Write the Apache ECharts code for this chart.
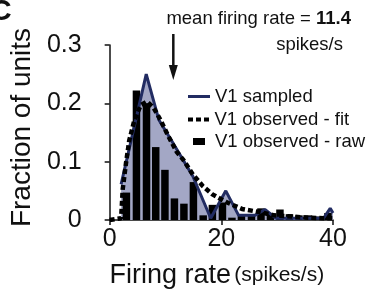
<!doctype html>
<html lang="en">
<head>
<meta charset="utf-8">
<title>firing rate histogram</title>
<script src="https://cdn.jsdelivr.net/npm/echarts@6/dist/echarts.min.js"></script>
<style>
html, body { margin: 0; padding: 0; background: #fff; }
#chart { width: 368px; height: 294px; }
</style>
</head>
<body>
<div id="chart"></div>
<script>
// raw histogram (V1 observed - raw)
var rawX = [3.0, 4.8, 6.6, 8.25, 9.9, 11.6, 13.3, 15.0, 16.75, 18.4, 20.2, 21.9, 23.6, 25.4, 27.1, 28.8, 30.5, 32.2, 33.9, 35.6, 37.4, 39.1];
var rawY = [0.047, 0.222, 0.200, 0.125, 0.086, 0.037, 0.028, 0.065, 0.008, 0.026, 0.030, 0.004, 0.008, 0.010, 0.020, 0.012, 0.018, 0.010, 0.008, 0.008, 0.006, 0.012];

// V1 sampled
var sampledX = [2.05, 6.55, 8.8, 11.1, 14.9, 18.1, 20.8, 23.1, 26.0, 27.8, 29.8, 38.3, 39.5, 40];
var sampledY = [0.061, 0.250, 0.172, 0.136, 0.075, 0.003, 0.050, 0.008, 0.008, 0.018, 0.003, 0.003, 0.020, 0.012];

// V1 observed - fit
var fitX = [0, 2.05, 2.34, 2.92, 3.5, 4.4, 5.56, 6.7, 7.9, 9.07, 10.5, 12, 13.2, 14.9, 16.7, 18.4, 20.8, 23.7, 26.6, 29.5, 32.5, 35.5, 38.3, 40];
var fitY = [0, 0.003, 0.053, 0.097, 0.136, 0.170, 0.197, 0.203, 0.192, 0.172, 0.144, 0.117, 0.103, 0.078, 0.058, 0.044, 0.031, 0.019, 0.014, 0.008, 0.006, 0.004, 0.003, 0.003];

var meanRate = 11.4;

function pairs(xs, ys) {
    return xs.map(function (x, i) { return [x, ys[i]]; });
}

var navy = '#222c62';
var fillColor = '#a3a7c5';
var fontName = 'Liberation Sans';

var myChart = echarts.init(document.getElementById('chart'));

myChart.setOption({
    animation: false,
    textStyle: { fontFamily: fontName, color: '#111' },
    grid: { left: 105, right: 35, top: 45, bottom: 68, containLabel: false },
    xAxis: {
        type: 'value', min: 0, max: 40, interval: 20,
        splitLine: { show: false },
        axisLine: { lineStyle: { color: '#111', width: 1.5 } },
        axisTick: { length: 5, lineStyle: { color: '#111', width: 1.5 } },
        axisLabel: { fontSize: 25, color: '#111', margin: 7 },
        name: '{a|Firing rate} {b|(spikes/s)}',
        nameLocation: 'middle', nameGap: 42,
        nameTextStyle: {
            padding: [0, 9, 0, 0],
            rich: {
                a: { fontSize: 27, color: '#111', fontFamily: fontName },
                b: { fontSize: 21, color: '#111', fontFamily: fontName }
            }
        }
    },
    yAxis: {
        type: 'value', min: 0, max: 0.3, interval: 0.1, offset: 12,
        splitLine: { show: false },
        axisLine: { show: true, lineStyle: { color: '#111', width: 1.5 } },
        axisTick: { show: true, length: 5, lineStyle: { color: '#111', width: 1.5 } },
        axisLabel: { fontSize: 25, color: '#111', margin: 16 },
        name: 'Fraction of units',
        nameLocation: 'middle', nameGap: 59,
        nameTextStyle: { fontSize: 28, color: '#111', padding: [0, 0, 0, 10] }
    },
    legend: [
        {
            data: ['V1 sampled'], left: 183, top: 82, icon: 'rect',
            itemWidth: 22, itemHeight: 3, itemStyle: { borderWidth: 0 },
            textStyle: { fontSize: 18.5, color: '#111', padding: [0, 0, 0, 0] }
        },
        {
            data: ['V1 observed - fit'], left: 183, top: 105,
            icon: 'path://M0,0H5V4H0Z M8,0H13V4H8Z M16,0H21V4H16Z',
            itemWidth: 22, itemHeight: 4, itemStyle: { borderWidth: 0 },
            textStyle: { fontSize: 18.5, color: '#111', padding: [0, 0, 0, 0] }
        },
        {
            data: ['V1 observed - raw'], left: 188, top: 127, icon: 'rect',
            itemWidth: 12, itemHeight: 7, itemStyle: { borderWidth: 0 },
            textStyle: { fontSize: 18.5, color: '#111', padding: [0, 0, 0, 5] }
        }
    ],
    series: [
        {
            name: 'sampled fill', type: 'line', z: 1,
            data: pairs(sampledX, sampledY),
            symbol: 'none', lineStyle: { width: 0 },
            areaStyle: { color: fillColor, opacity: 1 }
        },
        {
            name: 'V1 observed - raw', type: 'bar', z: 2,
            data: pairs(rawX, rawY),
            barWidth: 7.5,
            itemStyle: { color: '#000' }
        },
        {
            name: 'V1 sampled', type: 'line', z: 3,
            data: pairs(sampledX, sampledY),
            symbol: 'none',
            itemStyle: { color: navy },
            lineStyle: { color: navy, width: 3 }
        },
        {
            name: 'V1 observed - fit', type: 'line', z: 4,
            data: pairs(fitX, fitY),
            symbol: 'none',
            itemStyle: { color: '#000' },
            lineStyle: { color: '#000', width: 4.5, type: [5, 3] }
        }
    ]
});

// mean firing rate arrow + panel letter
var px = myChart.convertToPixel({ gridIndex: 0 }, [meanRate, 0])[0];
myChart.setOption({
    graphic: [
        { type: 'text', left: -10, top: -3, style: { text: 'C', fontSize: 30, fontWeight: 'bold', fontFamily: fontName, fill: '#111' } },
        { type: 'text', right: 17, top: 9, style: {
            text: '{n|mean firing rate = }{b|' + meanRate + '}',
            rich: {
                n: { fontSize: 18.5, fontFamily: fontName, fill: '#111' },
                b: { fontSize: 18.5, fontFamily: fontName, fontWeight: 'bold', fill: '#111' }
            } } },
        { type: 'text', right: 25, top: 35, style: { text: 'spikes/s', fontSize: 18.5, fontFamily: fontName, fill: '#111' } },
        { type: 'line', shape: { x1: px, y1: 34, x2: px, y2: 70 }, style: { stroke: '#111', lineWidth: 2.5 } },
        { type: 'polygon', shape: { points: [[px - 4.5, 65], [px + 4.5, 65], [px, 80]] }, style: { fill: '#111' } }
    ]
});
</script>
</body>
</html>
